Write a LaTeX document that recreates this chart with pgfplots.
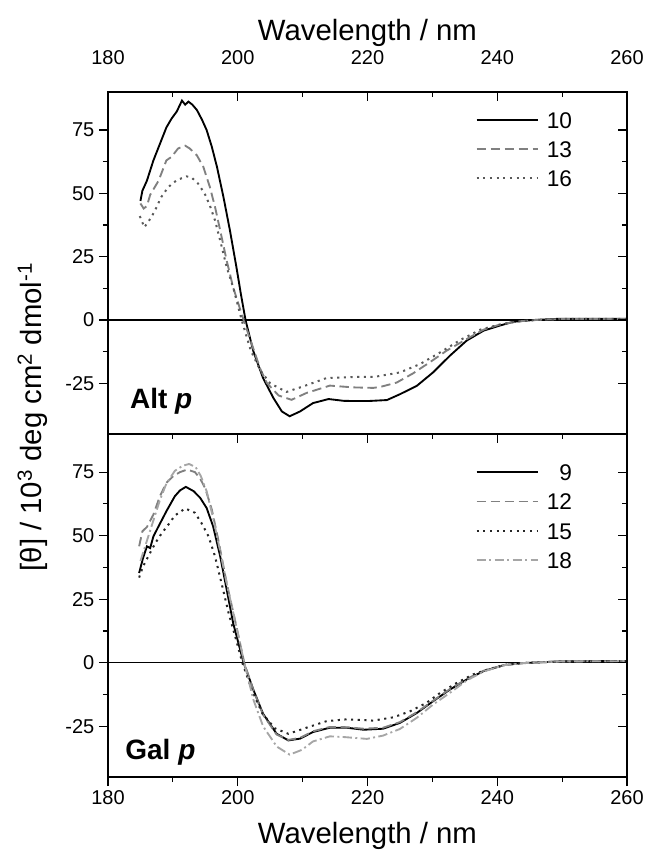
\documentclass[border=0pt]{standalone}
\usepackage{fontspec}
\setmainfont{Liberation Sans}
\usepackage{pgfplots}
\pgfplotsset{compat=1.18}
\begin{document}
\begin{tikzpicture}
\pgfplotsset{
  cdframe/.style={
    scale only axis, width=389.25pt,
    xmin=180, xmax=260, ymin=-45, ymax=90,
    xtick={180,200,...,260}, minor x tick num=1,
    ytick={-25,0,...,75}, minor y tick num=1,
    major tick length=6.75pt, minor tick length=3.75pt,
    tick style={black, line width=0.9pt},
    axis line style={line width=1pt},
    tick label style={font=\fontsize{15}{18}\selectfont},
    /pgf/number format/assume math mode=true,
    clip=false,
  },
  outer/.style={cdframe, tick align=outside, xtick pos=left, ytick pos=left},
  inner/.style={cdframe, tick align=inside, xtick pos=right, ytick pos=right,
    yticklabels={}},
  cdleg/.style={
    legend style={draw=none, fill=none, font=\fontsize{17}{20}\selectfont,
      at={#1}, anchor=north east, row sep=7.4pt,
      nodes={inner sep=1pt, text height=12.5pt, text depth=0pt}},
    legend image code/.code={\draw[##1] (0pt,0pt) -- (46pt,0pt); \path (51pt,0pt);},
  },
  s10/.style={black, line width=1.4pt},
  s13/.style={black!50, line width=1.4pt, dash pattern=on 7pt off 3.5pt},
  s16/.style={black!65, line width=1.5pt, dash pattern=on 1.6pt off 3.4pt},
  s15/.style={black!85, line width=1.5pt, dash pattern=on 1.6pt off 3.4pt},
  s18/.style={black!35, line width=1.4pt, dash pattern=on 7pt off 2.5pt on 1.5pt off 2.5pt},
}

% ---------- top panel: Alt p ----------
\begin{axis}[outer, name=top, height=256.5pt, at={(0,257.25pt)}, anchor=south west,
  xticklabels={}, cdleg={(0.905,0.955)}]
\addplot[black, line width=0.9pt, forget plot] coordinates {(180,0) (260,0)};
\addplot[s10] coordinates {
(185,47) (185.3,51) (186,55) (187,63) (188,69.5) (189,76) (189.8,79.5) (190.6,82.3)
(191.4,86.6) (191.9,85) (192.4,86.2) (193.0,85) (193.7,82.9) (194.5,79) (195.2,75)
(196,68.4) (196.8,60.4) (197.8,48.5) (198.8,35.3) (199.8,20.8) (200.5,10) (201.2,0)
(202.4,-12.3) (203.9,-22.9) (205.5,-30.8) (206.8,-36.1) (208,-38) (209.6,-36.1)
(211.6,-32.8) (214,-31.2) (216.3,-31.9) (218,-32) (220,-32) (223,-31.6) (225,-29.3)
(227.6,-26) (230.1,-20.7) (232.7,-14.1) (235.3,-8.1) (237.9,-4.2) (240.4,-2.2)
(242.5,-0.7) (245.6,0) (249.7,0.5) (255,0.5) (260,0.5)};
\addlegendentry{10}
\addplot[s13] coordinates {
(185,46) (185.5,44) (186,45) (186.5,49.4) (187.8,55) (189,63) (189.8,64.4) (190.8,67.7)
(191.9,68.8) (192.6,67.7) (193.7,65) (194.7,60.4) (195.7,52.5) (196.5,44.6) (197.3,35.3)
(198.3,23.4) (199.3,12.8) (200.9,0) (202.5,-12) (203.5,-19.5) (204.5,-24.9) (206.3,-29.8)
(208.3,-31.5) (210.6,-28.8) (214.2,-25.9) (217.8,-26.6) (220.9,-26.8) (222,-26.4)
(224.5,-24.7) (227,-21.1) (229.6,-16.7) (232.2,-12.1) (235.3,-7.5) (237.9,-3.8)
(240.4,-1.8) (243,-0.6) (246,0) (250,0.4) (260,0.4)};
\addlegendentry{13}
\addplot[s16] coordinates {
(184.9,41) (185.6,36.6) (186.7,40.6) (187.5,44.6) (188.2,48.5) (189.3,52.5) (190.6,55.2)
(192.1,56.7) (192.9,56.2) (193.9,53.8) (194.9,49.9) (195.7,45.2) (196.5,39.3) (197.3,31.3)
(198.3,20.8) (199.3,12.8) (200.6,0) (202,-12) (203.5,-20) (205,-25) (207.5,-28.4)
(210.1,-26.2) (213.7,-22.9) (217.8,-22.5) (221.2,-22.4) (225,-20.7) (228.1,-17.4)
(231.2,-12.8) (234.3,-7.9) (237.4,-3.8) (240.4,-1.8) (243,-0.6) (246,0) (250,0.4) (260,0.4)};
\addlegendentry{16}
\node[anchor=base west, inner sep=0pt, font=\fontsize{21}{24}\selectfont\bfseries]
  at (rel axis cs:0.042,0.075) {Alt \textit{p}};
\end{axis}
\begin{axis}[inner, height=256.5pt, at={(0,257.25pt)}, anchor=south west,
  xticklabel pos=right, xticklabel style={yshift=17pt}]
\end{axis}

% ---------- bottom panel: Gal p ----------
\begin{axis}[outer, name=bot, height=257.25pt, at={(0,0)}, anchor=south west,
  cdleg={(0.905,0.925)}]
\addplot[black, line width=0.9pt, forget plot] coordinates {(180,0) (260,0)};
\addplot[s10] coordinates {
(184.8,35.3) (185.4,41.2) (186,45.8) (186.5,45.1) (187,49.7) (187.8,53.7) (189,59.6)
(190.3,65.5) (191.1,67.8) (192,69.2) (193.2,67.5) (194.2,64.9) (195.2,60.9) (196.2,53.7)
(197.3,41.8) (198.3,28.7) (199.3,15.5) (200.9,0) (202.4,-10.6) (203.9,-20.1) (206,-28)
(207.8,-30.6) (209.6,-29.9) (211.6,-27.3) (214.2,-25.6) (216.8,-25.6) (219.4,-26.4)
(222.4,-26) (225,-23.7) (227.6,-19.8) (230.1,-15.2) (232.7,-10.6) (235.3,-6.6)
(237.9,-3.3) (241,-1) (243.6,-0.2) (249.7,0.5) (255,0.6) (260,0.6)};
\addlegendentry{\phantom{0}9}
\addplot[s13] coordinates {
(184.8,45.8) (185.3,51.7) (186,53.4) (187,58.3) (188,65.5) (189,70.8) (190.1,73.5)
(191.1,75) (192.2,76) (193.4,75) (194.2,72.5) (195,68.5) (196,60.3) (197,48.4)
(198.3,31.3) (199.8,14.2) (201,0) (202.4,-10.8) (203.9,-20.5) (206,-28.3) (207.8,-30.4)
(209.6,-29.6) (211.6,-27) (214.2,-25.3) (216.8,-25.4) (219.4,-26) (222.4,-25.6)
(225,-23.4) (227.6,-19.5) (230.1,-15) (232.7,-10.4) (235.3,-6.4) (237.9,-3.2) (241,-1)
(243.6,-0.2) (249.7,0.5) (260,0.6)};
\addlegendentry{12}
\addplot[s15] coordinates {
(184.8,33.5) (185.4,37.9) (186.2,41.8) (187.3,47.1) (188.3,51) (189.3,54.3) (190.3,57.9)
(191.9,60.7) (193.4,59) (194.4,55) (195.5,49.7) (196.5,41.8) (197.5,31.3) (198.6,19.4)
(199.9,7.6) (200.7,0) (202.2,-11) (203.8,-20) (205.7,-25.8) (207.8,-28) (210.6,-25.6)
(213.7,-23) (216.8,-22.3) (220.9,-22.8) (224,-21.5) (226.6,-19.1) (229.1,-15.8)
(231.2,-11.9) (233.8,-7.9) (236.3,-4.6) (238.9,-2.4) (241.5,-0.7) (245,0) (250,0.5) (260,0.6)};
\addlegendentry{15}
\addplot[s18] coordinates {
(185,40) (186,48) (187,56) (188,64) (189,70.5) (190.3,75.5) (191.5,77.5) (192.5,78.2)
(193.5,77) (194.3,73.5) (195.2,67.5) (196.2,57) (197.2,45) (198.4,30) (199.8,14) (201,0)
(202.4,-14.5) (203.9,-25) (206,-33) (208,-36.2) (209.9,-34.3) (211.6,-31) (214.2,-29)
(216.5,-29.3) (219.9,-30) (222.4,-28.7) (225,-26.1) (227.6,-21.7) (230.1,-16.5)
(232.7,-11.9) (235.3,-7) (237.9,-3.5) (241,-1) (244,-0.2) (250,0.5) (260,0.6)};
\addlegendentry{18}
\node[anchor=base west, inner sep=0pt, font=\fontsize{21}{24}\selectfont\bfseries]
  at (rel axis cs:0.033,0.05) {Gal \textit{p}};
\end{axis}
\begin{axis}[inner, height=257.25pt, at={(0,0)}, anchor=south west, xticklabels={}]
\end{axis}

% axis titles
\node[anchor=base, font=\fontsize{22}{26}\selectfont] at (194.6pt,552pt) {Wavelength / nm};
\node[anchor=base, font=\fontsize{22}{26}\selectfont] at (194.6pt,-49.5pt) {Wavelength / nm};
\node[anchor=base, rotate=90, font=\fontsize{22}{26}\selectfont] at (-49.5pt,270pt)
  {[θ] / 10\textsuperscript{3} deg cm\textsuperscript{2} dmol\textsuperscript{-1}};

\pgfresetboundingbox
\path[use as bounding box] (-81pt,-57.75pt) rectangle (402.75pt,582.75pt);
\end{tikzpicture}
\end{document}
